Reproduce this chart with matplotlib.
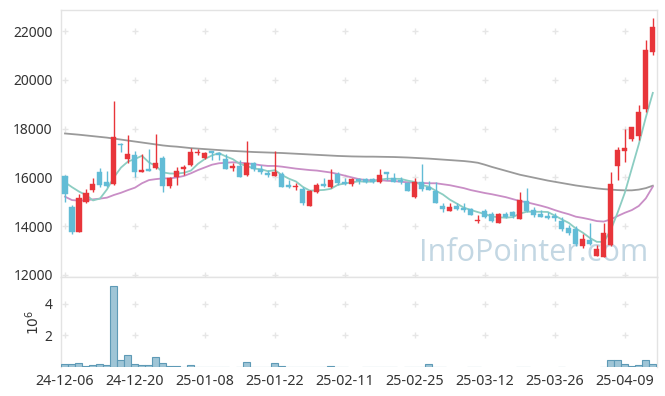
import numpy as np
import matplotlib
matplotlib.use('Agg')
import matplotlib.pyplot as plt

# ---- data ----
opens = [16070, 14790, 13750, 14980, 15500, 16210, 15800, 15720, 17370, 16770,
         16920, 16230, 16340, 16400, 16810, 15660, 16030, 16340, 16510, 16990,
         16810, 17080, 17010, 16750, 16400, 16470, 16080, 16580, 16340, 16190,
         16070, 16130, 15690, 15590, 15510, 14840, 15420, 15720, 15590, 16130,
         15830, 15720, 15940, 15930, 15930, 15800, 16210, 15990, 15910, 15790,
         15180, 15800, 15590, 15440, 14830, 14640, 14830, 14760, 14690, 14230,
         14620, 14490, 14150, 14490, 14570, 14310, 15030, 14660, 14490, 14420,
         14420, 14230, 13910, 13870, 13170, 13430, 12790, 12750, 13230, 16480,
         17080, 17570, 17680, 18800, 21120]
highs = [16100, 14870, 15310, 15520, 15960, 16400, 16260, 19130, 17400, 17740,
         17080, 16950, 17160, 17770, 16860, 16000, 16440, 16510, 17220, 17180,
         17040, 17090, 17050, 16950, 16580, 16710, 17490, 16650, 16510, 16300,
         17090, 16230, 15890, 15760, 15590, 15480, 15760, 15960, 16330, 16210,
         15990, 15970, 15970, 15990, 15990, 16330, 16230, 16190, 16030, 15800,
         15960, 16540, 15870, 15830, 14960, 14960, 14960, 14940, 14730, 14450,
         14690, 14590, 14530, 14590, 14630, 15390, 15550, 14770, 14660, 14590,
         14550, 14390, 14050, 14020, 13700, 14120, 13230, 14120, 16230, 17260,
         17980, 18080, 18980, 21630, 22520]
lows = [15000, 13700, 13750, 14950, 15420, 15620, 15600, 15700, 17030, 16580,
        16030, 16230, 16270, 16340, 15420, 15560, 15690, 16100, 16470, 16930,
        16750, 16710, 16710, 16330, 16280, 16000, 16070, 16260, 16130, 16030,
        16040, 15600, 15580, 15480, 14860, 14830, 15350, 15620, 15560, 15690,
        15690, 15660, 15720, 15760, 15770, 15790, 15890, 15800, 15720, 15450,
        15170, 15460, 15470, 14940, 14570, 14630, 14660, 14600, 14450, 14120,
        14330, 14170, 14150, 14330, 14350, 14300, 14600, 14390, 14370, 14290,
        14210, 13820, 13640, 13170, 13110, 13250, 12780, 12750, 13190, 15890,
        16620, 17490, 17540, 18700, 21000]
closes = [15310, 13750, 15140, 15360, 15720, 15690, 15630, 17640, 17330, 16960,
          16210, 16290, 16280, 16580, 15660, 15990, 16280, 16430, 17040, 17040,
          17000, 16990, 16900, 16360, 16480, 16010, 16610, 16340, 16230, 16080,
          16220, 15620, 15590, 15660, 14960, 15460, 15690, 15660, 15890, 15790,
          15720, 15940, 15850, 15810, 15830, 16100, 16140, 15830, 15800, 15460,
          15830, 15530, 15480, 14960, 14700, 14770, 14720, 14660, 14470, 14270,
          14370, 14230, 14490, 14380, 14400, 15070, 14640, 14460, 14390, 14350,
          14330, 13870, 13730, 13260, 13480, 13260, 13070, 13710, 15730, 17120,
          17220, 18050, 18680, 21220, 22150]
volume_m = [0.21, 0.21, 0.28, 0.09, 0.15, 0.21, 0.15, 5.10, 0.42, 0.78,
            0.21, 0.15, 0.15, 0.66, 0.28, 0.09, 0.09, 0.03, 0.15, 0.02,
            0.02, 0.02, 0.02, 0.02, 0.0, 0.02, 0.34, 0.02, 0.02, 0.02,
            0.28, 0.09, 0.02, 0.02, 0.02, 0.02, 0.02, 0.02, 0.09, 0.02,
            0.02, 0.0, 0.0, 0.02, 0.02, 0.02, 0.02, 0.02, 0.0, 0.02,
            0.02, 0.02, 0.17, 0.02, 0.02, 0.0, 0.0, 0.0, 0.02, 0.02,
            0.0, 0.0, 0.0, 0.0, 0.0, 0.02, 0.02, 0.0, 0.0, 0.0,
            0.0, 0.02, 0.0, 0.0, 0.0, 0.0, 0.0, 0.02, 0.42, 0.42,
            0.21, 0.09, 0.15, 0.42, 0.21]
ma5_head = [15800, 15600, 15420, 15280]
ma20 = [15210, 15070, 15050, 15060, 15100, 15130, 15170, 15280, 15370, 15480,
        15580, 15760, 15890, 15930, 15960, 15960, 16000, 16060, 16170, 16300,
        16410, 16520, 16580, 16600, 16620, 16600, 16580, 16540, 16500, 16470,
        16470, 16440, 16400, 16360, 16330, 16300, 16280, 16240, 16200, 16140,
        16070, 16000, 15930, 15890, 15880, 15890, 15860, 15850, 15820, 15800,
        15790, 15770, 15760, 15760, 15720, 15680, 15620, 15560, 15480, 15420,
        15360, 15310, 15250, 15190, 15110, 15030, 14980, 14910, 14840, 14760,
        14660, 14570, 14490, 14390, 14340, 14280, 14210, 14190, 14280, 14420,
        14550, 14660, 14830, 15140, 15620]
ma60 = [17800, 17775, 17750, 17720, 17690, 17660, 17630, 17590, 17550, 17510,
        17470, 17430, 17390, 17350, 17310, 17280, 17260, 17230, 17200, 17180,
        17160, 17140, 17120, 17100, 17085, 17070, 17055, 17040, 17030, 17020,
        17010, 17000, 16985, 16970, 16955, 16940, 16925, 16910, 16895, 16880,
        16870, 16860, 16855, 16850, 16850, 16845, 16840, 16835, 16825, 16815,
        16800, 16785, 16770, 16750, 16730, 16710, 16690, 16670, 16640, 16600,
        16520, 16430, 16350, 16270, 16190, 16110, 16050, 15990, 15930, 15870,
        15820, 15770, 15720, 15670, 15630, 15590, 15550, 15520, 15500, 15480,
        15470, 15470, 15500, 15560, 15660]
tick_labels = ['24-12-06', '24-12-20', '25-01-08', '25-01-22', '25-02-11',
               '25-02-25', '25-03-12', '25-03-26', '25-04-09']
price_ticks = [12000, 14000, 16000, 18000, 20000, 22000]
vol_ticks = [2, 4]

plt.rcParams['font.family'] = ['Noto Sans', 'DejaVu Sans']

UP = '#e8353a'
DOWN = '#62bcd6'
SPINE = '#e3e3e3'
TXT = '#333333'
CROSS = '#e6e6e6'

o = np.array(opens, float); h = np.array(highs, float)
l = np.array(lows, float); c = np.array(closes, float)
n = len(c)
x = np.arange(n)
cols = np.where(c >= o, UP, DOWN)

ma5 = np.concatenate([ma5_head, np.convolve(c, np.ones(5) / 5, mode='valid')])

fig = plt.figure(figsize=(6.65, 3.96), dpi=100)
ax = fig.add_axes([61 / 665, 1 - 277 / 396, 596 / 665, 267 / 396])
axv = fig.add_axes([61 / 665, 1 - 367 / 396, 596 / 665, 90 / 396], sharex=ax)

tick_idx = np.arange(0, n, 10)[:len(tick_labels)]

# grid crosses
gx, gy = np.meshgrid(tick_idx, price_ticks)
ax.plot(gx.ravel(), gy.ravel(), '+', color=CROSS, ms=5, mew=1.0, zorder=0)
gx2, gy2 = np.meshgrid(tick_idx, vol_ticks)
axv.plot(gx2.ravel(), gy2.ravel(), '+', color=CROSS, ms=5, mew=1.0, zorder=0)

# watermark
ax.text(0.985, 0.035, 'InfoPointer.com', transform=ax.transAxes, ha='right', va='bottom',
        fontsize=22, color='#c3d7e3', family=['Open Sans', 'DejaVu Sans'], zorder=1)

# moving averages
ax.plot(x, ma60, color='#9a9a9a', lw=1.3, zorder=2)
ax.plot(x, ma20, color='#c98ec6', lw=1.3, zorder=2)
ax.plot(x, ma5, color='#8ccdc2', lw=1.3, zorder=2)

# candles
ax.vlines(x, l, h, colors=cols, lw=1.0, zorder=3)
body_lo = np.minimum(o, c)
body_h = np.maximum(np.abs(c - o), 25)
ax.bar(x, body_h, bottom=body_lo, width=0.72, color=cols, edgecolor=cols, lw=0.3, zorder=4)

ax.set_xlim(-0.57, n - 0.4)
ax.set_ylim(11918, 22861)
ax.set_yticks(price_ticks)
ax.set_yticklabels([str(v) for v in price_ticks])
ax.tick_params(axis='y', length=0, pad=6, labelsize=10, labelcolor=TXT)
ax.tick_params(axis='x', length=0, labelbottom=False)
for s in ax.spines.values():
    s.set_color(SPINE)
    s.set_linewidth(1.0)

# volume
v = np.array(volume_m, float)
ec = np.where(v > 0, '#5e9ab6', 'none')
axv.bar(x, v, width=1.0, color='#9fc5d6', edgecolor=ec, lw=0.8, zorder=3)
axv.set_ylim(0, 5.67)
axv.set_yticks(vol_ticks)
axv.set_yticklabels([str(t) for t in vol_ticks])
axv.tick_params(axis='y', length=0, pad=6, labelsize=10, labelcolor=TXT)
axv.set_xticks(tick_idx)
axv.set_xticklabels(tick_labels)
axv.tick_params(axis='x', length=0, pad=5, labelsize=10.3, labelcolor=TXT)
axv.set_ylabel(r'$10^6$', fontsize=10, color=TXT)
axv.yaxis.set_label_coords(-0.030, 0.5)
for s in axv.spines.values():
    s.set_color(SPINE)
    s.set_linewidth(1.0)
axv.spines['bottom'].set_visible(False)

fig.savefig('out.png', dpi=100, facecolor='white')
